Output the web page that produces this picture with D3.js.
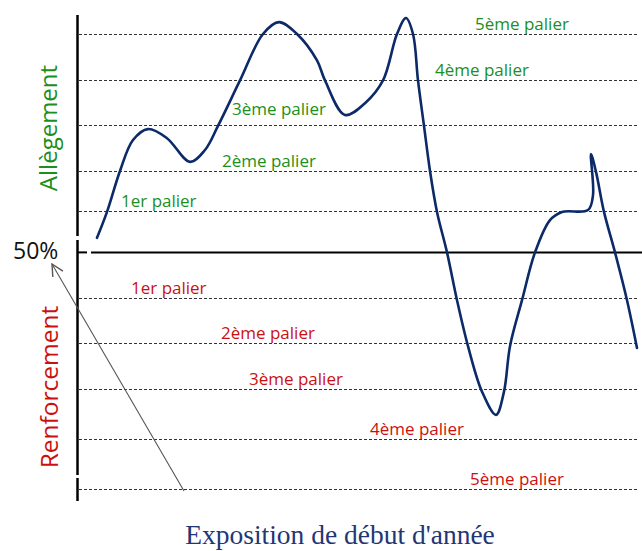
<!DOCTYPE html>
<html>
<head>
<meta charset="utf-8">
<script src="https://cdn.jsdelivr.net/npm/d3@7"></script>
<style>
  body { margin: 0; background: #fff; }
  svg { display: block; }
</style>
</head>
<body>
<div id="chart"></div>
<script>
// palier levels, 0 = 50% line (positive = allègement, negative = renforcement)
const allegementLevels = [0.9, 1.8, 2.8, 3.8, 4.8];
const renforcementLevels = [-1, -2, -3, -4.1, -5.2];
const allegementLabels = ["1er palier", "2ème palier", "3ème palier", "4ème palier", "5ème palier"];
const renforcementLabels = ["1er palier", "2ème palier", "3ème palier", "4ème palier", "5ème palier"];

// exposure path over the year (time units, palier units)
const curveT = [1.7, 2.7, 4.0, 5.3, 6.8, 8.7, 11.0, 12.5, 13.8, 16.0, 18.3, 19.9, 21.7, 23.7, 24.5,
  26.5, 28.5, 30.3, 31.7, 32.6, 33.3, 33.8, 34.4, 35.0, 35.7, 36.7, 37.7, 38.8, 40.2, 41.6,
  42.4, 43.0, 44.2, 45.5, 47.0, 48.2, 50.8, 51.3, 51.1, 51.6, 52.4, 53.5, 54.7, 55.7];
const curveV = [0.32, 0.89, 1.79, 2.47, 2.71, 2.51, 1.99, 2.25, 2.78, 3.78, 4.80, 5.06, 4.80, 4.22, 3.78,
  3.02, 3.28, 3.78, 4.80, 5.15, 4.80, 3.78, 2.78, 1.79, 0.89, 0.0, -1.05, -2.06, -3.06, -3.57,
  -3.06, -2.06, -1.05, 0.0, 0.71, 0.89, 0.93, 1.26, 2.16, 1.77, 0.89, 0.0, -1.05, -2.10];

// where each palier label starts along the time axis
const allegementLabelT = [4.1, 14.2, 15.2, 35.5, 39.5];
const renforcementLabelT = [5.1, 14.1, 16.9, 29.0, 39.0];

const width = 642, height = 551;
const green = "#1c8f1c", red = "#cc1010", navy = "#0c2a68";

const svg = d3.select("#chart").append("svg")
  .attr("width", width)
  .attr("height", height);

const x = d3.scaleLinear().domain([0, 56]).range([80, 640]);
const y = d3.scaleLinear().domain([-5.2, 4.8]).range([489, 34]);

// dashed palier lines
const dashed = svg.append("g")
  .attr("stroke", "#333")
  .attr("stroke-width", 1)
  .attr("stroke-dasharray", "3,2");
dashed.selectAll("line")
  .data(allegementLevels.concat(renforcementLevels))
  .join("line")
  .attr("x1", 79)
  .attr("x2", 638)
  .attr("y1", d => Math.round(y(d)) + 0.5)
  .attr("y2", d => Math.round(y(d)) + 0.5);

// 50% line
svg.append("line")
  .attr("x1", 78).attr("x2", 87)
  .attr("y1", y(0)).attr("y2", y(0))
  .attr("stroke", "#000").attr("stroke-width", 2);
svg.append("line")
  .attr("x1", 91).attr("x2", width)
  .attr("y1", y(0)).attr("y2", y(0))
  .attr("stroke", "#000").attr("stroke-width", 2);

// vertical axis, drawn in segments
const axisSegs = [[15, 236], [240, 475], [478, 501]];
svg.append("g").selectAll("line")
  .data(axisSegs)
  .join("line")
  .attr("x1", 77.5).attr("x2", 77.5)
  .attr("y1", d => d[0]).attr("y2", d => d[1])
  .attr("stroke", "#000").attr("stroke-width", 2.5);

// palier labels
const labelFont = "'Open Sans', sans-serif";
svg.append("g").selectAll("text")
  .data(allegementLabels)
  .join("text")
  .attr("x", (d, i) => x(allegementLabelT[i]))
  .attr("y", (d, i) => y(allegementLevels[i]) - (i === 2 ? 10 : 4))
  .attr("font-family", labelFont)
  .attr("font-size", "17px")
  .attr("fill", green)
  .text(d => d);

svg.append("g").selectAll("text")
  .data(renforcementLabels)
  .join("text")
  .attr("x", (d, i) => x(renforcementLabelT[i]))
  .attr("y", (d, i) => y(renforcementLevels[i]) - 4)
  .attr("font-family", labelFont)
  .attr("font-size", "17px")
  .attr("fill", red)
  .text(d => d);

// exposure curve
const pts = curveT.map((t, i) => [t, curveV[i]]);
const line = d3.line()
  .x(d => x(d[0]))
  .y(d => y(d[1]))
  .curve(d3.curveCatmullRom.alpha(0.5));

svg.append("path")
  .datum(pts)
  .attr("d", line)
  .attr("fill", "none")
  .attr("stroke", navy)
  .attr("stroke-width", 2.6)
  .attr("stroke-linejoin", "round")
  .attr("stroke-linecap", "round");

// side labels
svg.append("text")
  .attr("transform", "translate(57,128) rotate(-90)")
  .attr("text-anchor", "middle")
  .attr("font-family", labelFont)
  .attr("font-size", "24px")
  .attr("fill", green)
  .text("Allègement");

svg.append("text")
  .attr("transform", "translate(58,387) rotate(-90)")
  .attr("text-anchor", "middle")
  .attr("font-family", labelFont)
  .attr("font-size", "24.5px")
  .attr("fill", red)
  .text("Renforcement");

svg.append("text")
  .attr("x", 13)
  .attr("y", 259)
  .attr("font-family", labelFont)
  .attr("font-size", "23px")
  .attr("fill", "#111")
  .text("50%");

// arrow pointing to 50%
svg.append("defs").append("marker")
  .attr("id", "arrow")
  .attr("viewBox", "0 0 12 12")
  .attr("refX", 11).attr("refY", 6)
  .attr("markerWidth", 14).attr("markerHeight", 14)
  .attr("markerUnits", "userSpaceOnUse")
  .attr("orient", "auto")
  .append("path")
  .attr("d", "M1,1 L11,6 L1,11")
  .attr("fill", "none")
  .attr("stroke", "#555")
  .attr("stroke-width", 1.2);

svg.append("line")
  .attr("x1", 184).attr("y1", 491)
  .attr("x2", 52).attr("y2", 264)
  .attr("stroke", "#555")
  .attr("stroke-width", 1.1)
  .attr("marker-end", "url(#arrow)");

// bottom title
svg.append("text")
  .attr("x", 340)
  .attr("y", 544)
  .attr("text-anchor", "middle")
  .attr("font-family", "'Liberation Serif', serif")
  .attr("font-size", "27.5px")
  .attr("fill", "#1f3775")
  .text("Exposition de début d'année");
</script>
</body>
</html>
